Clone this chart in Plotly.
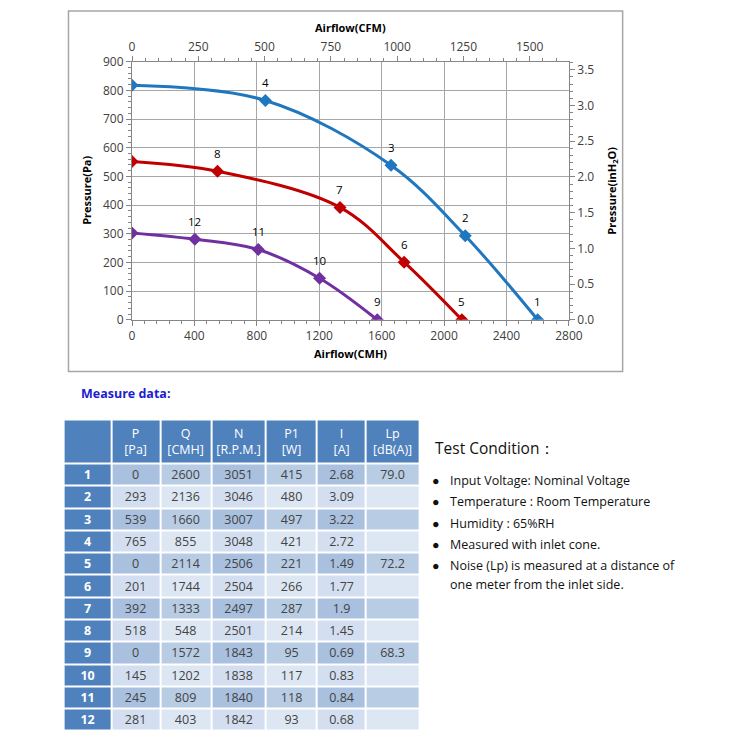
import itertools
import plotly.graph_objects as go

W = H = 750

# ---------------- data ----------------
point_no = ["1", "2", "3", "4", "5", "6", "7", "8", "9", "10", "11", "12"]
P_pa = [0, 293, 539, 765, 0, 201, 392, 518, 0, 145, 245, 281]
Q_cmh = [2600, 2136, 1660, 855, 2114, 1744, 1333, 548, 1572, 1202, 809, 403]
N_rpm = [3051, 3046, 3007, 3048, 2506, 2504, 2497, 2501, 1843, 1838, 1840, 1842]
P1_w = [415, 480, 497, 421, 221, 266, 287, 214, 95, 117, 118, 93]
I_a = ["2.68", "3.09", "3.22", "2.72", "1.49", "1.77", "1.9", "1.45", "0.69", "0.83", "0.84", "0.68"]
Lp_dba = ["79.0", "", "", "", "72.2", "", "", "", "68.3", "", "", ""]
shutoff_pa = [818, 552, 303]          # pressure at zero flow, per speed
curve_colors = ["#1f77c0", "#c00000", "#7030a0"]

header_labels = ["", "P<br>[Pa]", "Q<br>[CMH]", "N<br>[R.P.M.]", "P1<br>[W]", "I<br>[A]", "Lp<br>[dB(A)]"]

test_title = "Test Condition："
test_lines = [
    "Input Voltage: Nominal Voltage",
    "Temperature : Room Temperature",
    "Humidity : 65%RH",
    "Measured with inlet cone.",
    "Noise (Lp) is measured at a distance of",
]
test_cont = "one meter from the inlet side."

CMH_PER_CFM = 1.699
PA_PER_INH2O = 249.089
X_MAX = 2800
Y_MAX = 900

FONT = "Open Sans"
TICKC = "#404040"

# table geometry (pixels)
TBL_LEFT, TBL_TOP = 62, 420
col_w = [49, 50, 52, 56, 52, 50, 55]
row_h = [45] + [22.8] * 12
cell_colors = ["#4f81bd", "#a9c0df", "#b8cce4", "#d3dff0", "#dde7f3"]


def px(x):
    return x / W


def py(y):
    return 1 - y / H


fig = go.Figure()

# ---------------- curves ----------------
for k in range(3):
    idx = [4 * k + 3, 4 * k + 2, 4 * k + 1, 4 * k]
    xs = [0] + [Q_cmh[i] for i in idx]
    ys = [shutoff_pa[k]] + [P_pa[i] for i in idx]
    fig.add_trace(go.Scatter(
        x=xs, y=ys, mode="lines+markers",
        line=dict(color=curve_colors[k], width=3, shape="spline", smoothing=1.0),
        marker=dict(symbol="diamond", size=10, color=curve_colors[k]),
        showlegend=False, hoverinfo="skip",
    ))

for i, n in enumerate(point_no):
    fig.add_annotation(x=Q_cmh[i], y=P_pa[i], text=n, showarrow=False,
                       xanchor="center", yanchor="middle",
                       yshift=18, font=dict(family=FONT, size=11.5, color="#000000"))

# invisible trace to anchor the secondary axes
fig.add_trace(go.Scatter(x=[0, X_MAX / CMH_PER_CFM], y=[0, Y_MAX / PA_PER_INH2O],
                         xaxis="x2", yaxis="y2", mode="markers",
                         marker=dict(opacity=0), showlegend=False, hoverinfo="skip"))

# ---------------- table as heatmap ----------------
x_edges = [0] + list(itertools.accumulate(col_w))
y_edges = [0] + list(itertools.accumulate(row_h))
body_cols = [[f"<b>{n}</b>" for n in point_no], P_pa, Q_cmh, N_rpm, P1_w, I_a, Lp_dba]
n_rows = len(point_no)
z = [[0] * len(col_w)]
text = [header_labels]
for r in range(n_rows):
    zrow, trow = [], []
    for j in range(len(col_w)):
        if j == 0:
            zrow.append(0)
        elif r % 2 == 0:
            zrow.append(1 if j % 2 == 1 else 2)
        else:
            zrow.append(3 if j % 2 == 1 else 4)
        trow.append(str(body_cols[j][r]))
    z.append(zrow)
    text.append(trow)

ncol = len(cell_colors)
cscale = []
for i, c in enumerate(cell_colors):
    cscale.append([i / ncol, c])
    cscale.append([(i + 1) / ncol, c])

fig.add_trace(go.Heatmap(
    x=x_edges, y=y_edges, z=z, text=text, texttemplate="%{text}",
    textfont=dict(family=FONT, size=12.5),
    colorscale=cscale, zmin=-0.5, zmax=ncol - 0.5, showscale=False,
    xgap=2, ygap=2, xaxis="x3", yaxis="y3", hoverinfo="skip",
))

axis_common = dict(showline=True, linecolor="#868686", linewidth=1, ticks="outside",
                   ticklen=5, tickcolor="#868686", zeroline=False,
                   tickfont=dict(family=FONT, size=12, color=TICKC))

tbl_w = x_edges[-1]
tbl_h = y_edges[-1]

fig.update_layout(
    autosize=True, margin=dict(l=0, r=0, t=0, b=0),
    paper_bgcolor="white", plot_bgcolor="white",
    xaxis=dict(domain=[px(132), px(579)], range=[0, X_MAX], dtick=400, showgrid=True,
               gridcolor="#a6a6a6", gridwidth=1,
               minor=dict(ticks="outside", ticklen=3, dtick=80, tickcolor="#868686"),
               **axis_common),
    yaxis=dict(domain=[py(318), py(54)], range=[0, Y_MAX], dtick=100, showgrid=True,
               gridcolor="#a6a6a6", gridwidth=1,
               minor=dict(ticks="outside", ticklen=3, dtick=20, tickcolor="#868686"),
               **axis_common),
    xaxis2=dict(overlaying="x", side="top", range=[0, X_MAX / CMH_PER_CFM], dtick=250,
                showgrid=False, anchor="y",
                minor=dict(ticks="outside", ticklen=3, dtick=50, tickcolor="#868686"),
                **axis_common),
    yaxis2=dict(overlaying="y", side="right", range=[0, Y_MAX / PA_PER_INH2O], dtick=0.5,
                tickformat=".1f", showgrid=False, anchor="x",
                minor=dict(ticks="outside", ticklen=3, dtick=0.1, tickcolor="#868686"),
                **axis_common),
    xaxis3=dict(domain=[px(TBL_LEFT), px(TBL_LEFT + tbl_w)], range=[0, tbl_w],
                visible=False, anchor="y3"),
    yaxis3=dict(domain=[py(TBL_TOP + tbl_h), py(TBL_TOP)], range=[tbl_h, 0],
                visible=False, anchor="x3"),
)


def note(x, y, txt, font, xanchor="center", angle=0):
    fig.add_annotation(x=px(x), y=py(y), xref="paper", yref="paper", showarrow=False,
                       xanchor=xanchor, yanchor="middle", textangle=angle,
                       text=txt, font=font)


# axis titles
title_font = dict(family=FONT, size=11, color="#000000")
note(356, 19, "<b>Airflow(CFM)</b>", title_font)
note(356, 353, "<b>Airflow(CMH)</b>", title_font)
note(86, 186, "<b>Pressure(Pa)</b>", title_font, angle=-90)
note(623, 186, "<b>Pressure(inH<sub>2</sub>O)</b>", title_font, angle=-90)

# chart frame
fig.add_shape(type="rect", xref="paper", yref="paper", x0=px(67), x1=px(634),
              y0=py(371), y1=py(2), line=dict(color="#a6a6a6", width=1.5))

note(78, 393, "<b>Measure data:</b>", dict(family=FONT, size=12.5, color="#2020d0"),
     xanchor="left")

# ---------------- test condition ----------------
body_font = dict(family=FONT, size=12.5, color="#111111")
note(440, 449, test_title, dict(family=FONT, size=15.5, color="#111111"), xanchor="left")
line_y = [482, 504, 526, 548, 569]
for t, yy in zip(test_lines, line_y):
    note(437, yy, "●", dict(family=FONT, size=12.5, color="#111111"), xanchor="left")
    note(455, yy, t, body_font, xanchor="left")
note(455, 589, test_cont, body_font, xanchor="left")

fig.write_html(
    "out.html",
    default_width="100vw",
    default_height="100vh",
    config={"displayModeBar": False},
    post_script="document.body.style.margin='0';document.documentElement.style.overflow='hidden';",
)
